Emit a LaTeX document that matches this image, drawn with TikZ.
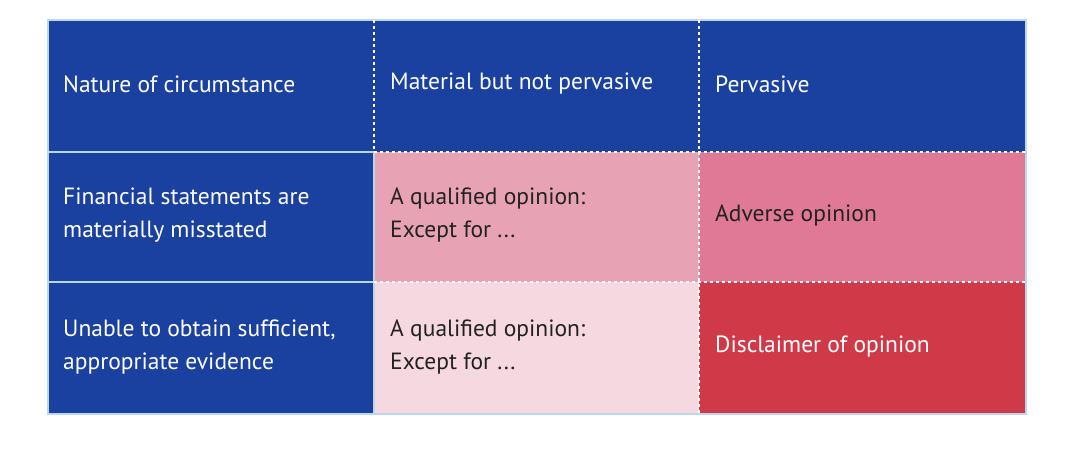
\documentclass[tikz,border=0pt]{standalone}
\usepackage{fontspec}
\setmainfont{PT Sans}
\definecolor{cblue}{HTML}{1A41A0}
\definecolor{cpinkA}{HTML}{E7A2B4}
\definecolor{cpinkB}{HTML}{E07995}
\definecolor{cpinkC}{HTML}{F5D8E0}
\definecolor{cred}{HTML}{D03A48}
\definecolor{cedge}{HTML}{B8D8EE}
\definecolor{ctext}{HTML}{222222}
\begin{document}
\begin{tikzpicture}[x=1pt,y=-1pt,
  cell/.style={anchor=west,align=left,inner sep=0pt,font=\fontsize{23.5}{33}\selectfont},
  wt/.style={cell,text=white},
  dt/.style={cell,text=ctext},
  dots/.style={white,line width=2.5pt,dash pattern=on 3pt off 3pt},
  edge/.style={cedge,line width=2pt}]
\useasboundingbox (0,0) rectangle (1080,462);
\fill[cblue] (48,20) rectangle (1026,152);
\fill[cblue] (48,152) rectangle (374,414);
\fill[cpinkA] (374,152) rectangle (699,282);
\fill[cpinkB] (699,152) rectangle (1026,282);
\fill[cpinkC] (374,282) rectangle (699,414);
\fill[cred] (699,282) rectangle (1026,414);
\draw[edge] (48,20) rectangle (1026,414);
\draw[edge] (48,152) -- (374,152) (48,282) -- (374,282) (374,152) -- (374,414);
\draw[dots] (374,20) -- (374,152) (699,20) -- (699,414)
  (374,152) -- (1026,152) (374,282) -- (1026,282);
\node[wt] (h1) at (63,84) {Nature of circumstance};
\node[wt] (h2) at (390,84) {Material but not pervasive};
\node[wt] (h3) at (715,84) {Pervasive};
\node[wt] (r1) at (63,215) {Financial statements are\\materially misstated};
\node[dt] (a1) at (390,215) {A qualified opinion:\\Except for ...};
\node[dt] (b1) at (715,215) {Adverse opinion};
\node[wt] (r2) at (63,347) {Unable to obtain sufficient,\\appropriate evidence};
\node[dt] (a2) at (390,347) {A qualified opinion:\\Except for ...};
\node[wt] (b2) at (715,347) {Disclaimer of opinion};
\end{tikzpicture}
\end{document}
